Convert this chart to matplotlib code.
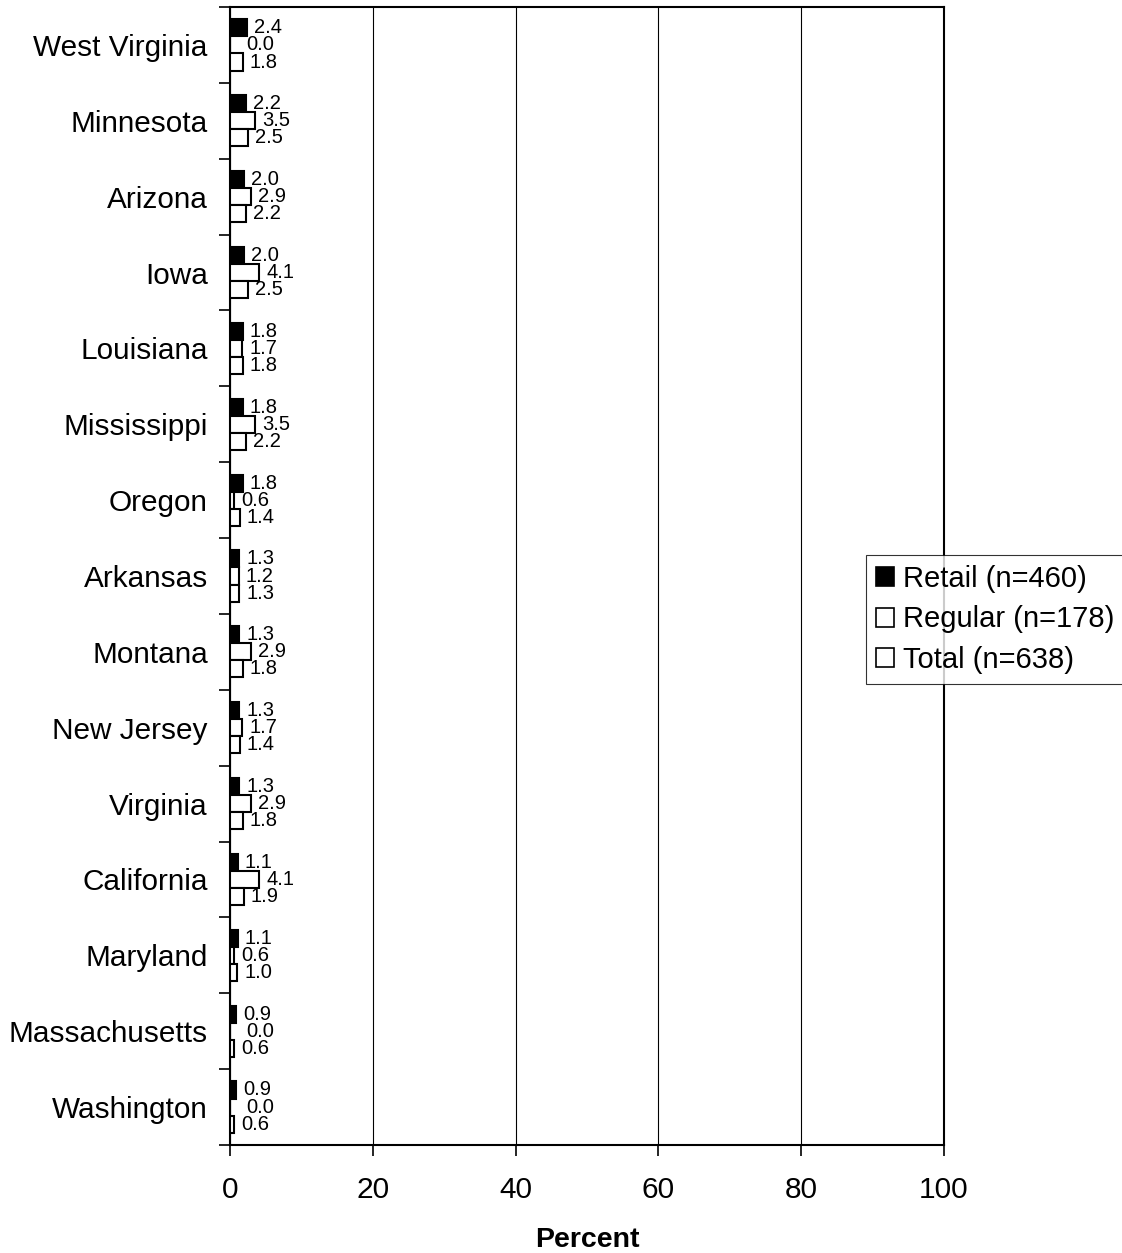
import matplotlib
matplotlib.use("Agg")
import matplotlib.pyplot as plt
import numpy as np
from matplotlib.patches import Patch

plt.rcParams['font.family'] = ['Liberation Sans', 'DejaVu Sans']

states = ["West Virginia", "Minnesota", "Arizona", "Iowa", "Louisiana",
          "Mississippi", "Oregon", "Arkansas", "Montana", "New Jersey",
          "Virginia", "California", "Maryland", "Massachusetts", "Washington"]
retail = [2.4, 2.2, 2.0, 2.0, 1.8, 1.8, 1.8, 1.3, 1.3, 1.3, 1.3, 1.1, 1.1, 0.9, 0.9]
regular = [0.0, 3.5, 2.9, 4.1, 1.7, 3.5, 0.6, 1.2, 2.9, 1.7, 2.9, 4.1, 0.6, 0.0, 0.0]
total = [1.8, 2.5, 2.2, 2.5, 1.8, 2.2, 1.4, 1.3, 1.8, 1.4, 1.8, 1.9, 1.0, 0.6, 0.6]
series_labels = ["Retail (n=460)", "Regular (n=178)", "Total (n=638)"]
x_ticks = [0, 20, 40, 60, 80, 100]

fig = plt.figure(figsize=(11.22, 12.53), dpi=100)
ax = fig.add_axes([230 / 1122, 1 - 1145 / 1253, 714 / 1122, 1138 / 1253])

y = np.arange(len(states))
h = 0.225
lw = 1.5
series = [(retail, "black", -h), (regular, "white", 0.0), (total, "white", h)]
for vals, color, off in series:
    ax.barh(y + off, vals, height=h, color=color, edgecolor="black",
            linewidth=lw, zorder=3)
    for yi, v in zip(y, vals):
        ax.annotate(f"{v:.1f}", xy=(v, yi + off),
                    xytext=(5 if v > 0 else 12, 0), textcoords="offset points",
                    ha="left", va="center", fontsize=14.5, zorder=4)

ax.set_xlim(0, 100)
ax.set_ylim(len(states) - 0.5, -0.5)
ax.set_xticks(x_ticks)
ax.set_xticklabels([str(t) for t in x_ticks], fontsize=21.5)
ax.tick_params(axis="x", direction="out", length=8, width=1.2, pad=14)
ax.xaxis.grid(True, color="black", linewidth=0.8, zorder=0)

# category boundaries carry the tick marks, centers carry the names
ax.set_yticks(np.arange(-0.5, len(states) + 0.5, 1.0))
ax.set_yticklabels([])
ax.tick_params(axis="y", which="major", direction="out", length=8, width=1.2)
ax.set_yticks(y, minor=True)
ax.set_yticklabels(states, minor=True, fontsize=21.4)
ax.tick_params(axis="y", which="minor", length=0, pad=16)

for s in ax.spines.values():
    s.set_linewidth(1.5)
    s.set_color("black")

ax.set_xlabel("Percent", fontsize=20.5, fontweight="bold", labelpad=17)

handles = [Patch(facecolor="black", edgecolor="black", linewidth=1.2),
           Patch(facecolor="white", edgecolor="black", linewidth=1.2),
           Patch(facecolor="white", edgecolor="black", linewidth=1.2)]
leg = fig.legend(handles, series_labels, loc="upper left",
                 bbox_to_anchor=(866 / 1122, 1 - 555 / 1253),
                 fontsize=21, frameon=True, fancybox=False,
                 handlelength=0.62, handleheight=0.62, handletextpad=0.3,
                 borderpad=0.35, labelspacing=0.42, borderaxespad=0)
leg.get_frame().set_edgecolor("black")
leg.get_frame().set_linewidth(0.8)

fig.savefig("out.png", dpi=100)
